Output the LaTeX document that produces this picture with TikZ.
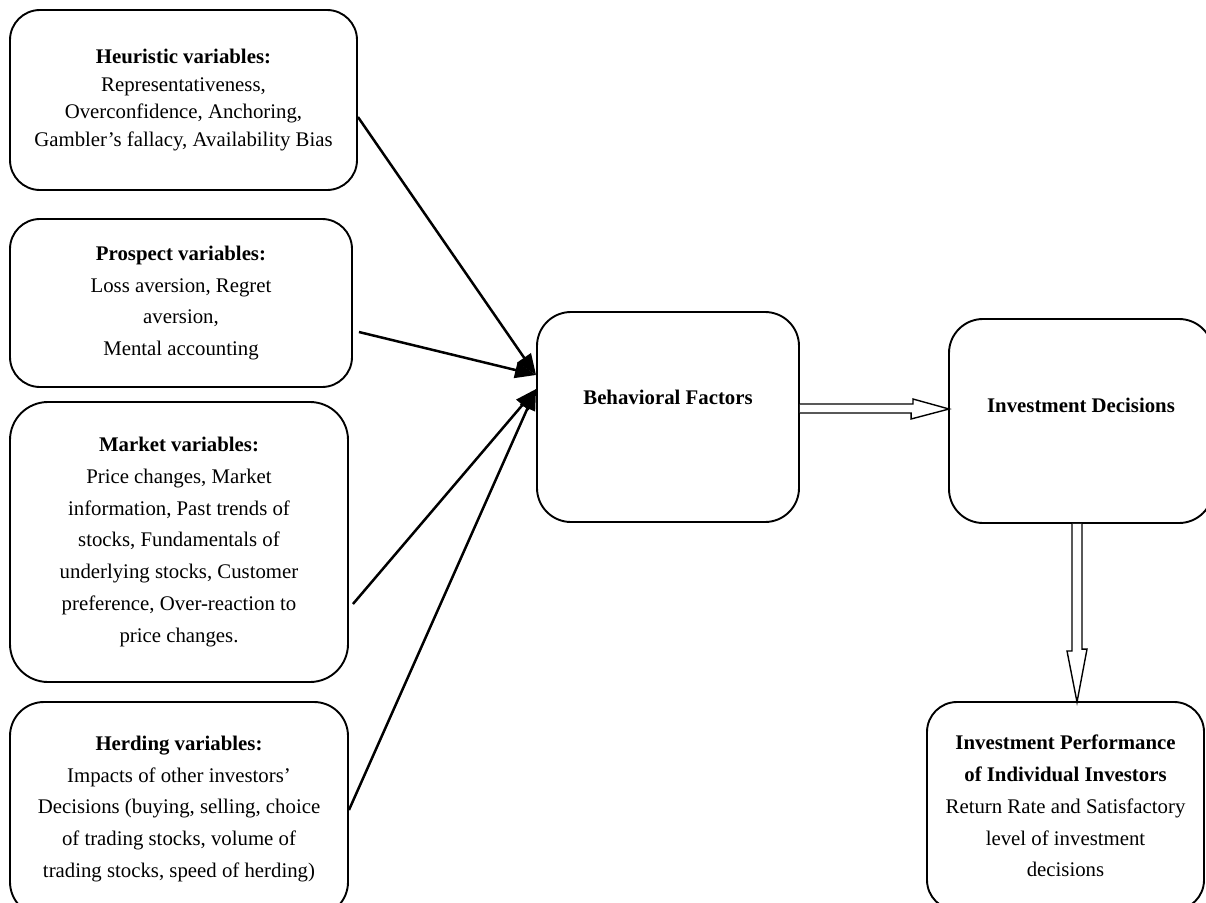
\documentclass[tikz,border=0pt]{standalone}
\usepackage{fontspec}
\setmainfont{Liberation Serif}
\usetikzlibrary{arrows.meta,calc}
\begin{document}
\begin{tikzpicture}[x=1pt,y=-1pt,
  box/.style={draw, line width=1.9pt, rounded corners=30pt, align=center, inner sep=0pt,
    font=\fontsize{20.8}{31.8}\selectfont},
  tightbox/.style={box, font=\fontsize{20.8}{27.7}\selectfont},
  bigbox/.style={draw, line width=1.9pt, rounded corners=34pt, inner sep=0pt},
  title/.style={font=\fontsize{20.8}{26}\selectfont\bfseries, inner sep=0pt},
  arr/.style={line width=2.5pt, -{Triangle[length=21pt,width=16pt]}},
  blk/.style={line width=1.4pt, line join=miter, fill=white}]
\useasboundingbox (0,0) rectangle (1206,902);
\clip (0,0) rectangle (1206,902);

% left boxes
\node[tightbox, minimum width=347pt, minimum height=180pt] (heur) at (183.5,100)
  {\textbf{Heuristic variables:}\\Representativeness,\\Overconfidence, Anchoring,\\Gambler’s fallacy, Availability Bias};
\node[box, minimum width=342pt, minimum height=168pt] (pros) at (181,303)
  {\textbf{Prospect variables:}\\Loss aversion, Regret\\aversion,\\Mental accounting};
\node[box, rounded corners=38pt, minimum width=338pt, minimum height=280pt] (mark) at (179,542)
  {\textbf{Market variables:}\\Price changes, Market\\information, Past trends of\\stocks, Fundamentals of\\underlying stocks, Customer\\preference, Over-reaction to\\price changes.};
\node[box, rounded corners=34pt, minimum width=338pt, minimum height=214pt] (herd) at (179,809)
  {\textbf{Herding variables:}\\Impacts of other investors’\\Decisions (buying, selling, choice\\of trading stocks, volume of\\trading stocks, speed of herding)};

% middle and right boxes
\node[bigbox, minimum width=262pt, minimum height=210pt] (bf) at (668,417) {};
\node[title] (bft) at ($(bf.center)+(0,-20)$) {Behavioral Factors};
\node[bigbox, minimum width=264pt, minimum height=204pt] (id) at (1081,421) {};
\node[title] (idt) at ($(id.center)+(0,-16)$) {Investment Decisions};
\node[box, minimum width=277pt, minimum height=208pt] (perf) at (1065.5,806)
  {\textbf{Investment Performance}\\\textbf{of Individual Investors}\\Return Rate and Satisfactory\\level of investment\\decisions};

% converging arrows
\coordinate (tipA) at ($(bf.west)+(0,-42)$);
\coordinate (tipB) at ($(bf.west)+(0,-28)$);
\draw[arr] ($(heur.east)+(0,17)$) -- (tipA);
\draw[arr] ($(pros.east)+(6,29)$) -- (tipA);
\draw[arr] ($(mark.east)+(4,62)$) -- (tipB);
\draw[arr] ($(herd.east)+(0,1)$) -- (tipB);

% block arrows
\coordinate (ht) at ($(id.west)+(1,-12)$);
\draw[blk] ($(bf.east)+(0,-13)$) -- ++(113,0) -- ++(0,-5) -- (ht) -- ++(-38,10) -- ++(0,-6) -- ($(bf.east)+(0,-4)$);
\coordinate (vt) at ($(perf.north)+(11.5,1)$);
\draw[blk] ($(id.south)+(-9,0)$) -- ++(0,127) -- ++(-5,0) -- (vt) -- ++(10,-53) -- ++(-5,0) -- ($(id.south)+(1,0)$);
\end{tikzpicture}
\end{document}
